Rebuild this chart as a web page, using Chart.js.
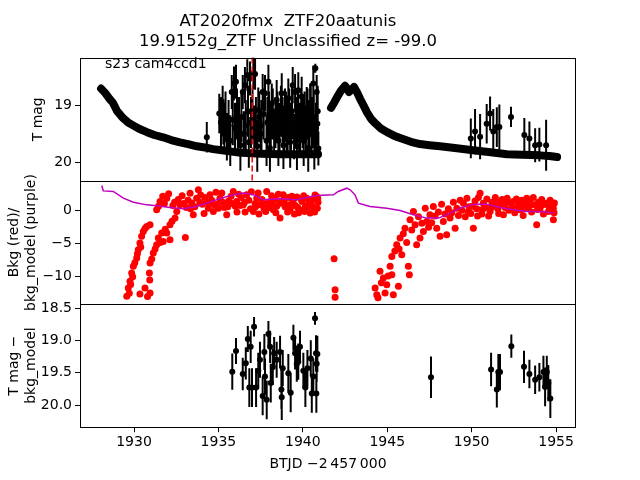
<!DOCTYPE html>
<html>
<head>
<meta charset="utf-8">
<script src="https://cdn.jsdelivr.net/npm/chart.js"></script>
<style>
  body { margin: 0; background: #fff; }
  #wrap { position: relative; width: 640px; height: 480px; }
  #wrap canvas { position: absolute; left: 0; top: 0; }
</style>
</head>
<body>
<div id="wrap">
  <canvas id="topChart" width="640" height="480"></canvas>
  <canvas id="midChart" width="640" height="480"></canvas>
  <canvas id="botChart" width="640" height="480"></canvas>
</div>
<script>
// ---- data ----
let titleLines = ['AT2020fmx  ZTF20aatunis', '19.9152g_ZTF Unclassified z= -99.0'];
let sectorText = 's23 cam4ccd1';
let xLabel = 'BTJD \u22122\u2009457\u2009000';
let xTicks = [1930, 1935, 1940, 1945, 1950, 1955];
let topTicks = [19, 20];
let midTicks = [0, -5, -10];
let botTicks = [18.5, 19.0, 19.5, 20.0];
let eventDay = 1937.0;

// dense light curve, first orbit
let curve1Day = [1928.05, 1928.3, 1928.55, 1928.75, 1929.0, 1929.35, 1929.65, 1929.94, 1930.3, 1930.77,
  1931.2, 1931.72, 1932.2, 1932.72, 1933.2, 1933.73, 1934.2, 1934.68, 1935.2, 1935.69,
  1936.2, 1936.69, 1937.5, 1938.65, 1939.6, 1940.6, 1940.9];
let curve1Mag = [18.70, 18.78, 18.88, 18.95, 19.10, 19.22, 19.30, 19.35, 19.41, 19.47,
  19.52, 19.56, 19.61, 19.65, 19.68, 19.72, 19.74, 19.77, 19.79, 19.81,
  19.83, 19.84, 19.85, 19.86, 19.86, 19.86, 19.86];
// dense light curve, second orbit
let curve2Day = [1941.67, 1941.85, 1942.03, 1942.25, 1942.5, 1942.74, 1943.03, 1943.2, 1943.39, 1943.6,
  1943.8, 1944.05, 1944.28, 1944.6, 1944.99, 1945.45, 1945.93, 1946.4, 1946.94, 1947.5,
  1948.13, 1949.0, 1950.08, 1951.0, 1952.1, 1953.0, 1954.05, 1954.6, 1955.06];
let curve2Mag = [19.04, 18.95, 18.85, 18.74, 18.65, 18.76, 18.67, 18.76, 18.88, 19.00,
  19.12, 19.24, 19.31, 19.40, 19.47, 19.54, 19.59, 19.64, 19.68, 19.70,
  19.72, 19.75, 19.79, 19.82, 19.86, 19.87, 19.88, 19.89, 19.91];

// noisy points with error bars in the top panel
let noisyDay = [1934.31, 1935.05, 1935.29, 1935.5, 1935.7, 1935.79, 1935.92, 1936.04, 1936.15, 1936.3,
  1936.44, 1936.5, 1936.57, 1936.71, 1936.8, 1936.87, 1937.07, 1937.12, 1937.17, 1937.3,
  1937.36, 1937.5, 1937.62, 1937.76, 1937.85, 1937.96, 1938.05, 1938.16, 1938.3, 1938.45,
  1938.55, 1938.75, 1938.85, 1938.94, 1939.05, 1939.14, 1939.25, 1939.4, 1939.48, 1939.54,
  1939.65, 1939.73, 1939.85, 1939.93, 1940.05, 1940.23, 1940.32, 1940.43, 1940.52, 1940.62,
  1940.68, 1940.74, 1940.82, 1940.86, 1940.92,
  1935.15, 1935.25, 1935.35, 1935.42, 1935.6, 1935.85, 1935.98, 1936.1, 1936.22, 1936.36,
  1936.62, 1936.75, 1936.93, 1937.02, 1937.22, 1937.42, 1937.55, 1937.68, 1937.9, 1938.0,
  1938.1, 1938.22, 1938.38, 1938.5, 1938.62, 1938.7, 1938.8, 1938.9, 1939.0, 1939.1,
  1939.2, 1939.3, 1939.36, 1939.58, 1939.7, 1939.78, 1939.9, 1940.0, 1940.1, 1940.18,
  1940.28, 1940.38, 1940.47, 1940.57, 1940.65, 1940.78, 1940.88,
  1949.95, 1950.2, 1950.5, 1950.89, 1951.09, 1951.28, 1951.49, 1951.64, 1952.33, 1953.12,
  1953.42, 1953.76, 1954.01, 1954.41];
let noisyMag = [19.56, 19.14, 19.29, 19.55, 19.62, 18.76, 18.61, 18.58, 19.45, 19.70,
  18.76, 19.50, 18.64, 18.46, 19.65, 18.52, 18.43, 19.40, 18.44, 19.72,
  19.08, 19.50, 18.76, 18.78, 19.62, 18.58, 19.75, 18.96, 19.45, 18.90,
  19.62, 18.78, 19.70, 19.08, 19.50, 18.87, 19.65, 18.64, 19.55, 18.76,
  19.72, 18.73, 19.45, 18.84, 19.62, 19.05, 19.75, 18.96, 19.50, 18.61,
  19.68, 18.34, 18.76, 19.32, 19.76,
  19.30, 19.10, 19.40, 19.20, 19.35, 19.25, 19.40, 19.15, 19.30, 19.20,
  19.35, 19.10, 19.30, 19.15, 19.30, 19.20, 19.35, 19.15, 19.30, 19.20,
  19.40, 19.15, 19.30, 19.20, 19.40, 19.10, 19.30, 19.45, 19.20, 19.35,
  19.15, 19.40, 19.10, 19.30, 19.20, 19.40, 19.15, 19.30, 19.20, 19.45,
  19.15, 19.35, 19.10, 19.30, 19.20, 19.40, 19.10,
  19.58, 19.46, 19.55, 19.32, 19.14, 19.46, 19.38, 19.38, 19.20, 19.52,
  19.58, 19.70, 19.69, 19.70];
let noisyErr = [0.27, 0.35, 0.40, 0.42, 0.45, 0.30, 0.30, 0.30, 0.40, 0.45,
  0.30, 0.40, 0.32, 0.28, 0.45, 0.30, 0.28, 0.40, 0.28, 0.45,
  0.40, 0.40, 0.32, 0.32, 0.45, 0.30, 0.42, 0.35, 0.40, 0.35,
  0.45, 0.35, 0.42, 0.38, 0.40, 0.35, 0.45, 0.32, 0.40, 0.32,
  0.42, 0.32, 0.40, 0.35, 0.45, 0.38, 0.42, 0.35, 0.40, 0.32,
  0.45, 0.08, 0.30, 0.38, 0.30,
  0.45, 0.45, 0.45, 0.45, 0.45, 0.45, 0.45, 0.45, 0.45, 0.45,
  0.45, 0.45, 0.45, 0.45, 0.45, 0.45, 0.45, 0.45, 0.45, 0.45,
  0.45, 0.45, 0.45, 0.45, 0.45, 0.45, 0.45, 0.45, 0.45, 0.45,
  0.45, 0.45, 0.45, 0.45, 0.45, 0.45, 0.45, 0.45, 0.45, 0.45,
  0.45, 0.45, 0.45, 0.45, 0.45, 0.45, 0.45,
  0.35, 0.40, 0.40, 0.35, 0.30, 0.40, 0.35, 0.40, 0.18, 0.30,
  0.30, 0.30, 0.30, 0.45];

// background (red) and background model (purple)
let bkgDay = [1929.57, 1929.66, 1929.72, 1929.76, 1929.8, 1929.86, 1929.92, 1929.96, 1930.05, 1930.16,
  1930.2, 1930.25, 1930.35, 1930.4, 1930.45, 1930.55, 1930.65, 1930.75, 1930.95,
  1930.35, 1930.65, 1930.8, 1930.95, 1930.91, 1930.93, 1930.95, 1931.05, 1931.14, 1931.25,
  1931.34, 1931.44, 1931.55, 1931.64, 1931.73, 1931.85, 1931.94, 1932.13, 1932.13, 1932.25, 1932.43,
  1931.34, 1931.45, 1931.54, 1931.7, 1931.8, 1931.94, 1932.05, 1932.3, 1932.53, 1932.62,
  1932.72, 1932.85, 1933.04, 1933.1, 1933.2, 1933.32, 1933.42, 1933.51, 1933.6, 1933.71,
  1933.81, 1933.95, 1934.05, 1934.2, 1934.31, 1934.4, 1934.5, 1934.6, 1934.7, 1934.85,
  1934.95, 1935.09, 1935.2, 1935.35, 1935.49, 1935.6, 1935.75, 1935.88, 1936.0, 1936.08,
  1936.2, 1936.35, 1936.47, 1936.58, 1936.67, 1936.8, 1936.95, 1937.07, 1937.17, 1937.27,
  1937.35, 1937.46, 1937.58, 1937.7, 1937.86, 1937.95, 1938.06, 1938.15, 1938.25, 1938.35,
  1938.45, 1938.55, 1938.65, 1938.75, 1938.84, 1938.95, 1939.04, 1939.15, 1939.25, 1939.35,
  1939.44, 1939.55, 1939.65, 1939.75, 1939.83, 1939.95, 1940.05, 1940.15, 1940.23, 1940.35,
  1940.43, 1940.52, 1940.62, 1940.72, 1940.82, 1940.86, 1940.9,
  1932.4, 1932.95, 1933.35, 1933.9, 1934.15, 1934.45, 1934.75, 1935.0, 1935.25, 1935.55,
  1935.8, 1936.1, 1936.3, 1936.55, 1936.9, 1937.2, 1937.4, 1937.65, 1937.8, 1938.0,
  1938.2, 1938.4, 1938.6, 1938.9, 1939.1, 1939.3, 1939.5, 1939.7, 1939.9, 1940.1,
  1940.3, 1940.5, 1940.7, 1940.88,
  1941.85, 1941.91, 1941.91,
  1944.28, 1944.38, 1944.45, 1944.57, 1944.65, 1944.77, 1944.87, 1944.97, 1945.05, 1945.17,
  1945.27, 1945.27, 1945.36, 1945.45, 1945.56, 1945.66, 1945.7, 1945.76, 1945.86, 1945.95,
  1946.05, 1946.15, 1946.25, 1946.31, 1946.35, 1946.45, 1946.55, 1946.65, 1946.74, 1946.85,
  1946.94, 1947.05, 1947.14, 1947.25, 1947.34, 1947.45, 1947.53, 1947.63, 1947.73, 1947.83,
  1947.93, 1948.03, 1948.13, 1948.22, 1948.32, 1948.42, 1948.52, 1948.62, 1948.72, 1948.82,
  1948.92, 1949.02, 1949.12, 1949.22, 1949.32, 1949.42, 1949.51, 1949.62, 1949.72, 1949.85,
  1949.95, 1950.1, 1950.2, 1950.3, 1950.4, 1950.5, 1950.6, 1950.69, 1950.8, 1950.9,
  1951.0, 1951.09, 1951.2, 1951.3, 1951.4, 1951.49, 1951.6, 1951.7, 1951.8, 1951.88,
  1951.98, 1952.1, 1952.2, 1952.3, 1952.47, 1952.55, 1952.65, 1952.75, 1952.87, 1952.95,
  1953.05, 1953.15, 1953.26, 1953.35, 1953.45, 1953.55, 1953.65, 1953.75, 1953.85, 1953.95,
  1954.05, 1954.15, 1954.25, 1954.35, 1954.45, 1954.55, 1954.65, 1954.75, 1954.84, 1954.84, 1954.9,
  1949.8, 1950.05, 1950.35, 1950.65, 1951.15, 1951.55, 1951.95, 1952.4, 1952.8, 1953.1,
  1953.5, 1953.9, 1954.2, 1954.6, 1954.88];
let bkgVal = [-13.08, -11.82, -12.6, -10.8, -11.3, -9.55, -10.1, -8.53, -8.0, -7.27,
  -6.6, -6.0, -5.0, -5.6, -3.98, -3.23, -2.8, -2.47, -2.22,
  -12.73, -11.82, -13.1, -12.58, -9.55, -10.6, -8.03, -7.4, -6.52, -5.9,
  -5.25, -4.24, -4.9, -3.48, -4.74, -2.9, -3.48, -4.5, -2.22, -1.7, -1.21,
  0.05, 0.6, 1.32, 2.1, 1.0, 1.82, 2.5, 0.7, -0.2, 1.6,
  0.8, 2.2, -4.14, 0.4, 1.5, 2.58, 1.1, -0.71, 0.5, 1.82,
  3.08, 2.3, 0.9, 1.9, 1.32, 0.3, 2.32, 1.5, -0.2, 2.7,
  0.9, 1.82, 2.6, 0.4, -0.71, 1.4, 2.1, 2.83, 0.6, 1.32,
  2.4, 1.9, 0.8, -0.3, 2.32, 1.5, 2.8, -0.2, 1.0, 1.82,
  2.6, 0.8, 1.6, 0.2, 2.83, 1.1, 1.32, 2.2, 0.05, 1.7,
  0.6, 2.4, -1.21, 1.3, 2.32, 0.5, 0.8, 1.9, 0.2, 2.1,
  1.56, 0.7, 2.0, -0.4, 0.05, 1.3, 2.2, 0.6, 1.82, 1.0,
  -0.45, 1.5, 0.4, 2.3, 2.07, 0.3, 1.2,
  1.2, 1.0, 0.2, 1.2, -0.5, 1.0, 0.8, 0.3, 1.2, 0.5,
  1.0, -0.3, 0.7, 1.2, 0.2, 0.5, -0.6, 1.0, -0.2, 0.4,
  0.9, -0.4, 1.0, 1.6, -0.3, 0.9, -0.6, 0.4, 1.7, -0.2,
  0.5, 0.9, -0.3, 1.8,
  -7.37, -12.07, -13.23,
  -11.82, -12.83, -13.3, -9.29, -11.0, -10.3, -12.58, -11.32, -10.0, -8.53,
  -9.8, -7.02, -12.83, -6.2, -5.25, -11.56, -5.9, -4.24, -6.77, -3.6,
  -2.73, -4.9, -8.53, -9.8, -1.47, -3.0, -0.2, -2.22, -5.25, -1.0,
  -4.24, -2.0, -3.23, 0.3, -1.71, -2.6, -0.71, -1.9, 0.56, -0.9,
  -2.73, -0.3, -3.98, 0.9, -1.71, -0.6, -3.74, 0.2, -1.21, -0.4,
  1.2, -2.73, 0.3, -0.8, 1.5, 0.0, 1.06, -1.0, 1.8, 0.5,
  -0.5, -2.73, 1.4, 0.2, 1.9, 2.58, -0.6, 1.06, 0.4, 1.7,
  -0.9, -0.2, 1.2, 0.6, 1.9, 1.32, -0.5, 0.9, 1.6, -0.71,
  0.4, 1.8, 0.0, 1.1, 1.32, -0.4, 1.7, 0.5, 0.05, 1.5,
  -0.8, 1.0, 1.82, 0.3, 1.4, -0.3, 1.9, 0.8, -2.22, 1.2,
  0.3, 1.6, -0.6, 0.9, 1.06, -0.2, 1.5, 0.6, 0.3, -1.47, 1.1,
  -0.2, 0.6, -0.9, 0.1, 0.4, 0.2, 1.1, 0.4, 1.0, 0.3,
  0.8, 0.1, 0.8, 0.2, -0.4];
let modelDay = [1928.09, 1928.18, 1928.77, 1929.37, 1929.96, 1930.75, 1931.34, 1932.13, 1932.92, 1933.71,
  1934.7, 1935.69, 1936.47, 1937.07, 1937.66, 1938.65, 1939.64, 1940.82, 1941.81, 1942.1,
  1942.6, 1942.8, 1943.09, 1943.29, 1943.98, 1944.97, 1945.76, 1946.55, 1947.34, 1948.03,
  1948.52, 1949.31, 1950.1, 1950.89, 1951.68, 1952.47, 1953.26, 1954.05, 1954.84];
let modelVal = [3.74, 2.92, 2.83, 1.82, 1.21, 0.80, 0.65, 0.41, 0.20, 0.56,
  1.41, 2.22, 2.58, 2.32, 1.56, 1.71, 1.56, 2.22, 2.32, 2.83,
  3.33, 3.08, 2.32, 1.06, 0.56, 0.30, -0.05, -0.71, -1.21, -1.21,
  -0.71, 0.30, 0.91, 0.91, 0.41, 0.05, -0.20, -0.20, -0.45];

// T mag - bkg_model
let diffDay = [1935.82, 1936.04, 1936.44, 1936.62, 1936.74, 1936.83, 1936.91, 1936.99, 1937.11, 1937.23,
  1937.36, 1937.46, 1937.62, 1937.72, 1937.76, 1937.86, 1937.96, 1938.06, 1938.1, 1938.22,
  1938.3, 1938.45, 1938.65, 1938.73, 1938.75, 1938.81, 1939.14, 1939.28, 1939.44, 1939.54,
  1939.64, 1939.73, 1939.83, 1940.03, 1940.15, 1940.27, 1940.47, 1940.53, 1940.62, 1940.72,
  1940.78, 1940.82, 1940.8, 1940.86,
  1947.59, 1951.15, 1951.49, 1951.58, 1951.68, 1952.35, 1953.1, 1953.42, 1953.76, 1954.01,
  1954.25, 1954.35, 1954.45, 1954.54, 1954.66];
let diffMag = [19.485, 19.165, 19.52, 19.355, 18.98, 19.73, 19.10, 19.73, 18.79, 19.73,
  19.47, 19.30, 19.86, 19.18, 19.56, 19.92, 18.90, 19.10, 19.66, 19.41,
  19.20, 19.30, 19.18, 19.76, 19.88, 19.43, 19.51, 19.81, 18.96, 19.20,
  19.36, 19.33, 19.10, 19.47, 19.73, 19.43, 19.28, 19.82, 19.56, 18.66,
  19.20, 19.36, 19.82, 19.21,
  19.57, 19.45, 19.76, 19.49, 19.49, 19.09, 19.41, 19.52, 19.61, 19.57,
  19.49, 19.72, 19.49, 19.66, 19.90];
let diffErr = [0.28, 0.20, 0.25, 0.25, 0.20, 0.30, 0.25, 0.30, 0.15, 0.30,
  0.28, 0.28, 0.30, 0.28, 0.28, 0.30, 0.20, 0.25, 0.30, 0.28,
  0.25, 0.28, 0.25, 0.30, 0.35, 0.28, 0.30, 0.30, 0.20, 0.25,
  0.28, 0.28, 0.25, 0.28, 0.30, 0.28, 0.28, 0.30, 0.28, 0.10,
  0.28, 0.28, 0.30, 0.28,
  0.32, 0.26, 0.28, 0.28, 0.28, 0.18, 0.25, 0.22, 0.22, 0.22,
  0.25, 0.30, 0.25, 0.28, 0.30];

// axis limits
let xMin = 1926.8, xMax = 1956.18;
let topMin = 18.152, topMax = 20.333;
let midMin = -14.24, midMax = 4.42;
let botMin = 18.438, botMax = 20.343;

// ---- helpers ----
let pts = (xs, ys) => xs.map((x, i) => ({x: x, y: ys[i]}));
let bars = (xs, ys, es) => {
    let out = [];
    xs.forEach((x, i) => {
        out.push({x: x, y: ys[i] - es[i]}, {x: x, y: ys[i] + es[i]}, {x: x, y: null});
    });
    return out;
};
let minus = s => String(s).replace('-', '\u2212');

Chart.defaults.font.family = 'DejaVu Sans';
Chart.defaults.font.size = 14;
Chart.defaults.color = '#000';

let framePlugin = {
    id: 'frame',
    afterDraw(chart) {
        let a = chart.chartArea;
        let c = chart.ctx;
        c.save();
        c.strokeStyle = '#000';
        c.lineWidth = 1;
        c.strokeRect(Math.round(a.left) + 0.5, Math.round(a.top) + 0.5,
            Math.round(a.right - a.left) - 1, Math.round(a.bottom - a.top));
        c.restore();
    }
};

let sectorPlugin = {
    id: 'sector',
    afterDraw(chart) {
        let c = chart.ctx;
        c.save();
        c.font = '14px "DejaVu Sans"';
        c.fillStyle = '#000';
        c.textBaseline = 'middle';
        c.fillText(sectorText, chart.chartArea.left + 25, chart.chartArea.top + 7);
        c.restore();
    }
};

let yAxis = (min, max, ticks, title, titlePad, fmt) => ({
    position: 'left',
    min: min,
    max: max,
    reverse: min > 0,
    afterFit: s => { s.width = 80; },
    afterBuildTicks: s => { s.ticks = ticks.map(v => ({value: v})); },
    grid: {drawOnChartArea: false, color: '#000', tickLength: 5, tickWidth: 1},
    border: {display: false},
    ticks: {padding: 3, callback: fmt},
    title: {display: true, text: title, font: {size: 14}, padding: {top: titlePad, bottom: 0}}
});

let hiddenX = {type: 'linear', min: xMin, max: xMax, display: false};

let baseOptions = (pad, scales, plugins) => ({
    responsive: false,
    animation: false,
    devicePixelRatio: 1,
    events: [],
    layout: {padding: pad},
    plugins: Object.assign({legend: {display: false}, tooltip: {enabled: false}}, plugins || {}),
    scales: scales
});

// ---- top panel: T mag ----
let topChart = new Chart(document.getElementById('topChart').getContext('2d'), {
    type: 'scatter',
    data: {
        datasets: [{
            data: [{x: eventDay, y: topMin}, {x: eventDay, y: topMax}],
            showLine: true, borderColor: 'red', borderWidth: 1.5, borderDash: [6, 3], pointRadius: 0
        }, {
            data: pts(noisyDay, noisyMag),
            backgroundColor: '#000', borderColor: '#000', pointRadius: 3, borderWidth: 0
        }, {
            data: bars(noisyDay, noisyMag, noisyErr),
            showLine: true, spanGaps: false, borderColor: '#000', borderWidth: 2, pointRadius: 0
        }, {
            data: pts(curve1Day, curve1Mag),
            showLine: true, borderColor: '#000', borderWidth: 8, pointRadius: 0,
            borderCapStyle: 'round', borderJoinStyle: 'round'
        }, {
            data: pts(curve2Day, curve2Mag),
            showLine: true, borderColor: '#000', borderWidth: 8, pointRadius: 0,
            borderCapStyle: 'round', borderJoinStyle: 'round'
        }]
    },
    options: baseOptions({left: 0, right: 64, top: 0, bottom: 299}, {
        x: hiddenX,
        y: yAxis(topMin, topMax, topTicks, 'T mag', 30, v => String(v))
    }, {
        title: {
            display: true, text: titleLines, font: {size: 16.5, weight: 'normal'},
            padding: {top: 12, bottom: 6}, color: '#000'
        }
    }),
    plugins: [framePlugin, sectorPlugin]
});

// ---- middle panel: background ----
let midChart = new Chart(document.getElementById('midChart').getContext('2d'), {
    type: 'scatter',
    data: {
        datasets: [{
            data: pts(modelDay, modelVal),
            showLine: true, borderColor: '#bf00bf', borderWidth: 1.5, pointRadius: 0
        }, {
            data: pts(bkgDay, bkgVal),
            backgroundColor: 'red', borderColor: 'red', pointRadius: 3.5, borderWidth: 0
        }]
    },
    options: baseOptions({left: 0, right: 64, top: 181, bottom: 176}, {
        x: hiddenX,
        y: yAxis(midMin, midMax, midTicks, ['Bkg (red)/', 'bkg_model (purple)'], 6, v => minus(v))
    }),
    plugins: [framePlugin]
});

// ---- bottom panel: T mag - bkg_model ----
let botChart = new Chart(document.getElementById('botChart').getContext('2d'), {
    type: 'scatter',
    data: {
        datasets: [{
            data: pts(diffDay, diffMag),
            backgroundColor: '#000', borderColor: '#000', pointRadius: 3, borderWidth: 0
        }, {
            data: bars(diffDay, diffMag, diffErr),
            showLine: true, spanGaps: false, borderColor: '#000', borderWidth: 2, pointRadius: 0
        }]
    },
    options: baseOptions({left: 0, right: 64, top: 304, bottom: 0}, {
        x: {
            type: 'linear', min: xMin, max: xMax,
            afterFit: s => { s.height = 52.8; },
            afterBuildTicks: s => { s.ticks = xTicks.map(v => ({value: v})); },
            grid: {drawOnChartArea: false, color: '#000', tickLength: 5, tickWidth: 1},
            border: {display: false},
            ticks: {padding: 2, maxRotation: 0, callback: v => String(v)},
            title: {display: true, text: xLabel, font: {size: 14}, padding: {top: 0, bottom: 7.6}}
        },
        y: yAxis(botMin, botMax, botTicks, ['T mag \u2212', 'bkg_model'], 6, v => Number(v).toFixed(1))
    }),
    plugins: [framePlugin]
});
</script>
</body>
</html>
